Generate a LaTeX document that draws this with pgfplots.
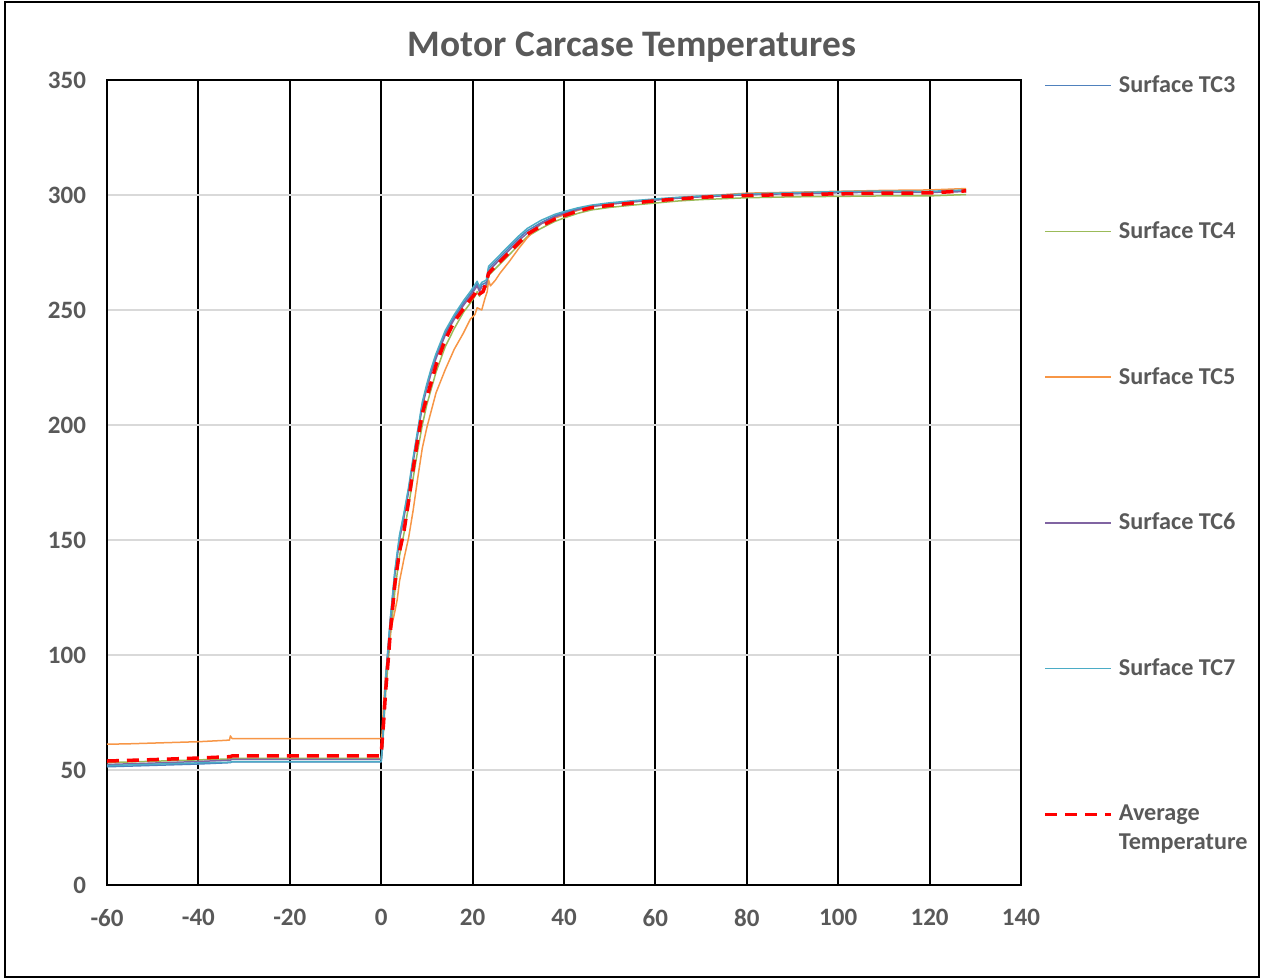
\documentclass[border=0pt]{standalone}
\usepackage{fontspec}
\setmainfont{Carlito}
\usepackage{pgfplots}
\pgfplotsset{compat=1.18}
\definecolor{txtgray}{HTML}{595959}
\definecolor{gridgray}{HTML}{D9D9D9}
\definecolor{cTCiii}{HTML}{4F81BD}
\definecolor{cTCiv}{HTML}{9BBB59}
\definecolor{cTCv}{HTML}{F79646}
\definecolor{cTCvi}{HTML}{8064A2}
\definecolor{cTCvii}{HTML}{4BACC6}
\begin{document}
\begin{tikzpicture}
\path[use as bounding box] (0,0) rectangle (632.5pt,490pt);
\draw[line width=1pt] (2.5pt,1.5pt) rectangle (629.5pt,489pt);
\begin{axis}[
  at={(53.5pt,47.5pt)}, anchor=south west,
  scale only axis, width=457pt, height=402.5pt,
  xmin=-60, xmax=140, ymin=0, ymax=350,
  xtick={-60,-40,...,140}, ytick={0,50,...,350},
  major tick length=0pt,
  axis line style={black, line width=1pt},
  xmajorgrids, ymajorgrids,
  x grid style={black, line width=1pt},
  y grid style={gridgray, line width=1pt},
  /pgf/number format/assume math mode=true,
  tick label style={font=\fontsize{12.5}{15}\selectfont\bfseries, text=txtgray},
  yticklabel style={xshift=-7pt},
  xticklabel style={yshift=-8.5pt},
  title={Motor Carcase Temperatures},
  title style={at={(0.5744,1)}, anchor=base, yshift=5.5pt, font=\fontsize{18.7}{22}\selectfont\bfseries, text=txtgray},
  legend image code/.code={\draw[#1] (0pt,0pt) -- (33pt,0pt);},
  legend style={at={(1.0241,1.006)}, anchor=north west, draw=none, fill=none,
    font=\fontsize{12.1}{14.5}\selectfont\bfseries, text=txtgray,
    inner sep=0pt, row sep=63pt, column sep=3pt,
    nodes={inner sep=0pt, align=left}},
  legend cell align=left,
  every axis plot/.append style={line join=round},
]
\addplot[cTCiii, line width=0.75pt] coordinates {
(-60,51.4) (-50,52.0) (-40,52.6) (-33,53.2) (-32.7,53.5) (-20,53.5) (-10,53.5) (0,53.5)
(0.3,60) (1,90) (2,115) (3,136) (4,151) (5,161) (6,172) (7,185) (8,197) (9,209) (10,217)
(11,224) (12,230) (14,240) (16,247) (18,253) (19.5,257) (20.5,260) (21,261.5) (21.5,259)
(22,261) (23,262) (23.5,268) (24,269) (26,273) (28,277) (30,281) (32,284.5) (35,288)
(38,291) (40,292.3) (43,294) (46,295.3) (50,296.3) (55,297.2) (60,298) (65,298.8)
(70,299.4) (80,300.3) (90,300.8) (100,301.2) (110,301.4) (120,301.3) (128,301.8)};
\addlegendentry{Surface TC3}
\addplot[cTCiv, line width=0.75pt] coordinates {
(-60,53.2) (-50,53.8) (-40,54.4) (-33,54.8) (-32.7,55.0) (-20,55.0) (-10,55.0) (0,55.0)
(0.3,60) (1,84) (2,108) (3,128) (4,143) (5,153) (6,165) (7,177) (8,189) (9,200) (10,209)
(11,216) (12,223) (14,234) (16,242) (18,249) (19.5,253) (20.5,256) (21,258) (21.5,256)
(22,258) (23,260) (23.5,265) (24,266) (26,270) (28,274) (30,278) (32,282) (35,285.5)
(38,288.5) (40,290) (43,292) (46,293.5) (50,294.6) (55,295.6) (60,296.5) (65,297.4)
(70,298) (80,298.8) (90,299.2) (100,299.4) (110,299.6) (120,299.6) (128,300.2)};
\addlegendentry{Surface TC4}
\addplot[cTCv, line width=0.75pt] coordinates {
(-60,61.2) (-55,61.4) (-50,61.7) (-45,62.0) (-40,62.3) (-35,62.8) (-33.2,63.0) (-33,64.8)
(-32.6,63.6) (-20,63.6) (-10,63.6) (0,63.6)
(0.2,66) (0.5,78) (1,92) (2,110) (3,119) (3.5,124) (4,132) (5,142) (6,151) (7,163) (8,177)
(9,190) (10,199) (12,214) (14,224) (16,233) (18,240) (19.5,246) (20.5,248) (21,251)
(22,250) (22.7,255) (23.2,258) (23.5,263) (23.9,260.5) (25,263) (26,266) (28,271)
(30,276.5) (32,281.5) (35,287.5) (38,290) (40,291.3) (43,293.3) (46,295) (50,296)
(55,297) (60,298) (65,298.8) (70,299.5) (80,300.8) (90,301.2) (100,301.6) (110,302)
(120,302.2) (128,302.8)};
\addlegendentry{Surface TC5}
\addplot[cTCvi, line width=0.75pt] coordinates {
(-60,52.4) (-50,53.0) (-40,53.7) (-33,54.3) (-32.7,54.6) (-20,54.6) (-10,54.6) (0,54.6)
(0.3,61) (1,89) (2,114) (3,135) (4,150) (5,160) (6,171) (7,184) (8,196) (9,208) (10,216)
(11,223) (12,229) (14,239) (16,246) (18,252) (19.5,256) (20.5,259) (21,260.5) (21.5,258)
(22,260) (23,261) (23.5,267) (24,268) (26,272) (28,276) (30,280) (32,283.5) (35,287.5)
(38,290.5) (40,291.8) (43,293.6) (46,295) (50,296) (55,297) (60,297.8) (65,298.6)
(70,299.2) (80,300.1) (90,300.6) (100,301) (110,301.2) (120,301.1) (128,301.5)};
\addlegendentry{Surface TC6}
\addplot[cTCvii, line width=0.75pt] coordinates {
(-60,51.9) (-50,52.5) (-40,53.1) (-33,53.4) (-32.7,53.6) (-20,53.6) (-10,53.6) (0,53.6)
(0.3,61) (1,91) (2,116) (3,137) (4,152) (5,162) (6,173) (7,186) (8,198) (9,210) (10,218)
(11,225) (12,231) (14,241) (16,248) (18,254) (19.5,258) (20.5,261) (21,262.5) (21.5,260)
(22,262) (23,263) (23.5,269) (24,270) (26,274) (28,278) (30,282) (32,285.5) (35,289)
(38,291.6) (40,292.8) (43,294.4) (46,295.6) (50,296.6) (55,297.5) (60,298.3) (65,299)
(70,299.6) (80,300.5) (90,301) (100,301.5) (110,301.7) (120,301.6) (128,302.2)};
\addlegendentry{Surface TC7}
\addplot[red, line width=1.75pt, dash pattern=on 6pt off 4pt, legend image post style={yshift=7pt}] coordinates {
(-60,53.9) (-50,54.5) (-40,55.2) (-33,55.8) (-32.7,56.1) (-20,56.1) (-10,56.1) (-0.3,56.1)
(0,57) (0.5,70) (1,85) (1.5,97) (2,110) (3,131) (4,145) (5,154) (6,167) (7,181) (8,194)
(9,205) (10,212) (11,219) (12,226) (14,237) (16,245) (18,250.5) (19.5,254.5) (20.5,257)
(21,259) (21.5,257) (22.3,258) (23,262) (23.5,266) (24,267) (26,271) (28,275) (30,279)
(32,283) (35,286.5) (38,289.5) (40,291) (43,293) (46,294.5) (50,295.5) (55,296.5)
(60,297.5) (65,298.3) (70,299) (80,299.8) (90,300.2) (100,300.5) (110,300.8) (120,300.9)
(128,301.8)};
\addlegendentry{Average\\Temperature}
\end{axis}
\end{tikzpicture}
\end{document}
